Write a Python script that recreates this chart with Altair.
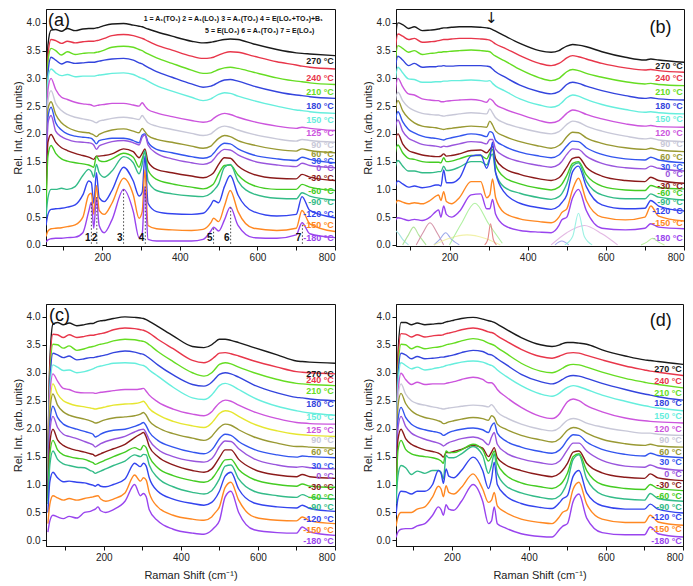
import altair as alt
import pandas as pd

# Shared Raman-shift sampling positions (cm^-1)
X = [55, 60, 68, 80, 95, 110, 130, 150, 165, 172, 178, 185, 192, 205, 225, 255, 280, 295, 303, 310,
     318, 340, 380, 430, 460, 480, 487, 500, 515, 530, 550, 590, 650, 700, 715, 735, 800]

# ---------------- panel (a) ----------------
A_270 = [1.5, 3.6, 3.87, 3.88, 3.85, 3.9, 3.86, 3.89, 3.9, 3.9, 3.9, 3.91, 3.92, 3.95, 3.98, 3.99, 3.96, 3.94, 3.93, 3.91, 3.89, 3.84, 3.76, 3.67, 3.64, 3.65, 3.66, 3.68, 3.7, 3.71, 3.7, 3.62, 3.52, 3.46, 3.45, 3.44, 3.41]
A_240 = [1.4, 3.4, 3.7, 3.68, 3.63, 3.67, 3.64, 3.66, 3.67, 3.67, 3.67, 3.68, 3.69, 3.72, 3.77, 3.79, 3.77, 3.74, 3.72, 3.7, 3.67, 3.6, 3.51, 3.4, 3.36, 3.37, 3.38, 3.42, 3.46, 3.48, 3.47, 3.4, 3.3, 3.24, 3.22, 3.2, 3.17]
A_210 = [1.3, 3.3, 3.54, 3.5, 3.42, 3.48, 3.43, 3.45, 3.46, 3.46, 3.46, 3.47, 3.48, 3.51, 3.56, 3.58, 3.56, 3.52, 3.5, 3.47, 3.44, 3.37, 3.27, 3.15, 3.09, 3.1, 3.12, 3.16, 3.19, 3.2, 3.18, 3.11, 3.01, 2.95, 2.94, 2.92, 2.89]
A_180 = [1.2, 3.1, 3.38, 3.33, 3.26, 3.3, 3.27, 3.28, 3.29, 3.29, 3.29, 3.3, 3.31, 3.33, 3.35, 3.36, 3.33, 3.28, 3.26, 3.23, 3.2, 3.12, 3.02, 2.9, 2.84, 2.86, 2.88, 2.93, 2.97, 2.98, 2.95, 2.86, 2.76, 2.7, 2.69, 2.67, 2.64]
A_150 = [1.1, 3.0, 3.17, 3.1, 3.05, 3.07, 3.03, 3.04, 3.04, 3.04, 3.04, 3.05, 3.06, 3.07, 3.09, 3.1, 3.07, 3.02, 3.0, 2.98, 2.95, 2.87, 2.77, 2.66, 2.6, 2.63, 2.66, 2.71, 2.74, 2.73, 2.68, 2.6, 2.5, 2.43, 2.42, 2.4, 2.37]
A_125 = [1.0, 2.8, 3.0, 2.8, 2.66, 2.62, 2.57, 2.54, 2.53, 2.52, 2.5, 2.51, 2.52, 2.53, 2.55, 2.55, 2.52, 2.5, 2.56, 2.5, 2.44, 2.38, 2.31, 2.24, 2.21, 2.24, 2.28, 2.34, 2.37, 2.35, 2.3, 2.22, 2.14, 2.1, 2.12, 2.1, 2.06]
A_90 = [0.9, 2.6, 2.78, 2.55, 2.42, 2.35, 2.3, 2.27, 2.25, 2.24, 2.22, 2.2, 2.23, 2.25, 2.28, 2.3, 2.28, 2.26, 2.33, 2.27, 2.2, 2.14, 2.08, 2.01, 1.97, 2.0, 2.04, 2.11, 2.14, 2.12, 2.07, 1.99, 1.91, 1.87, 1.9, 1.88, 1.85]
A_60 = [0.85, 2.45, 2.58, 2.35, 2.2, 2.12, 2.06, 2.03, 2.02, 2.0, 1.98, 1.95, 1.99, 2.03, 2.07, 2.09, 2.05, 2.02, 2.1, 2.04, 1.97, 1.9, 1.85, 1.78, 1.74, 1.78, 1.83, 1.92, 1.97, 1.95, 1.88, 1.8, 1.72, 1.69, 1.73, 1.7, 1.66]
A_30 = [0.8, 2.3, 2.48, 2.2, 2.07, 2.0, 1.96, 1.94, 1.93, 1.92, 1.88, 1.82, 1.88, 1.9, 1.92, 1.92, 1.88, 1.84, 1.98, 2.0, 1.85, 1.72, 1.66, 1.59, 1.56, 1.6, 1.65, 1.76, 1.83, 1.82, 1.73, 1.62, 1.55, 1.52, 1.58, 1.54, 1.48]
A_0 = [0.75, 2.2, 2.33, 2.05, 1.95, 1.9, 1.86, 1.85, 1.84, 1.83, 1.8, 1.72, 1.78, 1.82, 1.86, 1.88, 1.84, 1.8, 1.94, 1.98, 1.8, 1.65, 1.55, 1.48, 1.45, 1.49, 1.54, 1.65, 1.72, 1.71, 1.62, 1.51, 1.44, 1.41, 1.47, 1.43, 1.39]
A_M30 = [0.7, 1.85, 1.99, 1.85, 1.75, 1.7, 1.65, 1.61, 1.58, 1.56, 1.54, 1.6, 1.6, 1.61, 1.64, 1.73, 1.68, 1.57, 1.65, 1.73, 1.5, 1.36, 1.3, 1.24, 1.21, 1.26, 1.3, 1.45, 1.57, 1.56, 1.42, 1.27, 1.2, 1.19, 1.27, 1.22, 1.16]
A_M60 = [0.6, 1.6, 1.79, 1.65, 1.55, 1.51, 1.48, 1.46, 1.44, 1.42, 1.4, 1.6, 1.52, 1.5, 1.55, 1.65, 1.58, 1.4, 1.55, 1.68, 1.35, 1.18, 1.1, 1.04, 1.01, 1.06, 1.1, 1.28, 1.43, 1.44, 1.26, 1.07, 1.0, 1.0, 1.09, 1.04, 0.98]
A_M90 = [0.5, 0.85, 1.0, 1.0, 1.02, 1.0, 1.05, 1.25, 1.36, 1.32, 1.22, 1.45, 1.3, 1.22, 1.33, 1.59, 1.48, 1.28, 1.45, 1.7, 1.15, 0.98, 0.92, 0.88, 0.87, 0.93, 0.98, 1.1, 1.4, 1.45, 1.15, 0.92, 0.84, 0.83, 0.94, 0.88, 0.81]
A_M120 = [0.35, 0.55, 0.64, 0.65, 0.66, 0.68, 0.72, 0.9, 1.15, 1.12, 0.75, 1.3, 0.85, 0.78, 0.98, 1.4, 1.15, 0.88, 0.95, 1.6, 0.75, 0.6, 0.56, 0.55, 0.57, 0.72, 0.8, 0.76, 1.05, 1.25, 0.9, 0.6, 0.52, 0.55, 0.87, 0.62, 0.49]
A_M150 = [0.15, 0.25, 0.29, 0.3, 0.31, 0.33, 0.36, 0.5, 0.9, 0.93, 0.55, 1.07, 0.62, 0.55, 0.75, 1.2, 0.9, 0.48, 0.6, 1.35, 0.35, 0.29, 0.27, 0.26, 0.28, 0.4, 0.48, 0.42, 0.7, 0.98, 0.6, 0.3, 0.26, 0.3, 0.62, 0.38, 0.24]
A_M180 = [0.05, 0.09, 0.11, 0.12, 0.12, 0.13, 0.14, 0.22, 0.6, 0.77, 0.3, 0.85, 0.35, 0.22, 0.45, 1.0, 0.6, 0.13, 0.2, 1.05, 0.1, 0.07, 0.07, 0.07, 0.1, 0.25, 0.32, 0.25, 0.45, 0.68, 0.35, 0.13, 0.12, 0.18, 0.4, 0.2, 0.13]

# ---------------- panel (b) ----------------
B_270 = [2.0, 3.4, 4.0, 3.97, 3.9, 3.93, 3.86, 3.87, 3.88, 3.89, 3.9, 3.91, 3.91, 3.92, 3.93, 3.93, 3.92, 3.91, 3.9, 3.88, 3.85, 3.77, 3.63, 3.5, 3.47, 3.5, 3.53, 3.58, 3.61, 3.6, 3.57, 3.48, 3.38, 3.33, 3.35, 3.33, 3.29]
B_240 = [1.9, 3.3, 3.8, 3.76, 3.7, 3.72, 3.65, 3.66, 3.67, 3.68, 3.69, 3.7, 3.7, 3.71, 3.72, 3.72, 3.71, 3.7, 3.69, 3.66, 3.62, 3.55, 3.41, 3.27, 3.23, 3.27, 3.3, 3.37, 3.41, 3.39, 3.35, 3.27, 3.19, 3.15, 3.16, 3.14, 3.11]
B_210 = [1.8, 3.1, 3.59, 3.54, 3.47, 3.5, 3.43, 3.45, 3.46, 3.47, 3.47, 3.48, 3.48, 3.49, 3.5, 3.51, 3.5, 3.49, 3.48, 3.44, 3.4, 3.32, 3.16, 3.01, 2.96, 3.0, 3.04, 3.12, 3.16, 3.14, 3.09, 3.02, 2.94, 2.9, 2.91, 2.89, 2.87]
B_180 = [1.7, 3.0, 3.4, 3.33, 3.23, 3.27, 3.2, 3.21, 3.21, 3.22, 3.22, 3.23, 3.22, 3.22, 3.23, 3.23, 3.23, 3.22, 3.21, 3.17, 3.12, 3.03, 2.88, 2.76, 2.72, 2.76, 2.8, 2.89, 2.93, 2.91, 2.86, 2.78, 2.69, 2.64, 2.65, 2.63, 2.61]
B_150 = [1.6, 2.8, 3.2, 3.1, 2.99, 2.98, 2.93, 2.93, 2.94, 2.94, 2.94, 2.95, 2.95, 2.96, 2.96, 2.97, 2.96, 2.95, 2.96, 2.91, 2.86, 2.78, 2.63, 2.52, 2.48, 2.52, 2.56, 2.65, 2.7, 2.68, 2.62, 2.53, 2.44, 2.39, 2.4, 2.38, 2.36]
B_120 = [1.5, 2.6, 3.0, 2.85, 2.72, 2.7, 2.63, 2.61, 2.6, 2.6, 2.58, 2.58, 2.59, 2.6, 2.61, 2.62, 2.6, 2.57, 2.63, 2.6, 2.53, 2.45, 2.35, 2.24, 2.2, 2.24, 2.28, 2.37, 2.43, 2.41, 2.35, 2.27, 2.18, 2.14, 2.15, 2.13, 2.12]
B_90 = [1.4, 2.5, 2.75, 2.6, 2.48, 2.42, 2.37, 2.35, 2.34, 2.34, 2.33, 2.32, 2.33, 2.34, 2.36, 2.38, 2.37, 2.36, 2.45, 2.38, 2.29, 2.2, 2.11, 2.03, 2.0, 2.04, 2.08, 2.17, 2.23, 2.21, 2.14, 2.05, 1.96, 1.91, 1.92, 1.89, 1.86]
B_60 = [1.3, 2.3, 2.6, 2.42, 2.28, 2.2, 2.14, 2.12, 2.11, 2.1, 2.09, 2.08, 2.09, 2.1, 2.12, 2.14, 2.13, 2.12, 2.23, 2.16, 2.05, 1.96, 1.86, 1.78, 1.74, 1.79, 1.83, 1.95, 2.03, 2.02, 1.93, 1.83, 1.75, 1.72, 1.74, 1.71, 1.68]
B_30 = [1.2, 2.1, 2.4, 2.22, 2.08, 2.02, 1.96, 1.93, 1.92, 1.91, 1.9, 1.89, 1.91, 1.93, 1.96, 2.0, 1.98, 1.95, 2.04, 2.02, 1.88, 1.78, 1.67, 1.6, 1.57, 1.62, 1.67, 1.78, 1.87, 1.86, 1.75, 1.63, 1.55, 1.53, 1.58, 1.53, 1.48]
B_0 = [1.1, 2.0, 2.25, 2.05, 1.92, 1.87, 1.81, 1.79, 1.78, 1.77, 1.76, 1.78, 1.77, 1.79, 1.82, 1.86, 1.85, 1.82, 1.9, 1.9, 1.72, 1.6, 1.5, 1.43, 1.4, 1.45, 1.5, 1.63, 1.73, 1.72, 1.6, 1.47, 1.39, 1.37, 1.42, 1.38, 1.33]
B_M30 = [1.0, 1.8, 2.0, 1.82, 1.7, 1.66, 1.62, 1.6, 1.59, 1.59, 1.6, 1.64, 1.6, 1.61, 1.64, 1.7, 1.71, 1.66, 1.72, 1.77, 1.55, 1.38, 1.27, 1.19, 1.16, 1.21, 1.26, 1.4, 1.56, 1.58, 1.4, 1.24, 1.16, 1.14, 1.22, 1.16, 1.11]
B_M60 = [0.9, 1.6, 1.8, 1.66, 1.56, 1.54, 1.5, 1.49, 1.49, 1.49, 1.48, 1.57, 1.5, 1.51, 1.55, 1.61, 1.61, 1.55, 1.65, 1.72, 1.45, 1.22, 1.1, 1.02, 0.99, 1.04, 1.09, 1.25, 1.47, 1.5, 1.26, 1.06, 0.99, 0.98, 1.07, 1.03, 1.01]
B_M90 = [0.8, 1.35, 1.52, 1.42, 1.33, 1.33, 1.3, 1.3, 1.31, 1.32, 1.32, 1.42, 1.34, 1.35, 1.4, 1.5, 1.5, 1.44, 1.56, 1.64, 1.3, 1.04, 0.93, 0.85, 0.82, 0.87, 0.92, 1.1, 1.42, 1.48, 1.15, 0.9, 0.83, 0.83, 0.92, 0.86, 0.81]
B_M120 = [0.7, 1.0, 1.15, 1.1, 1.04, 1.06, 1.03, 1.05, 1.08, 1.08, 1.06, 1.35, 1.12, 1.12, 1.2, 1.6, 1.62, 1.38, 1.55, 1.85, 1.3, 0.95, 0.75, 0.67, 0.64, 0.7, 0.76, 0.9, 1.32, 1.42, 1.05, 0.72, 0.65, 0.66, 0.8, 0.7, 0.61]
B_M150 = [0.5, 0.7, 0.8, 0.77, 0.74, 0.76, 0.74, 0.8, 0.88, 0.9, 0.8, 0.96, 0.78, 0.74, 0.85, 1.14, 1.14, 0.85, 0.9, 1.19, 0.85, 0.58, 0.47, 0.42, 0.4, 0.5, 0.58, 0.65, 1.0, 1.2, 0.8, 0.5, 0.45, 0.5, 0.7, 0.52, 0.43]
B_M180 = [0.3, 0.42, 0.49, 0.47, 0.44, 0.46, 0.44, 0.5, 0.6, 0.63, 0.5, 0.7, 0.55, 0.5, 0.6, 0.9, 0.92, 0.65, 0.65, 0.82, 0.55, 0.35, 0.26, 0.23, 0.22, 0.35, 0.45, 0.5, 0.85, 1.0, 0.62, 0.3, 0.27, 0.3, 0.38, 0.32, 0.29]

# fitted components drawn faintly at the bottom of panel (b)
B_FIT_X = [[55, 62, 68, 80, 95], [80, 95, 108, 121, 140], [115, 132, 150, 168, 185], [160, 175, 190, 205, 225],
           [160, 200, 245, 290, 330], [200, 230, 265, 300, 335], [290, 298, 305, 312, 320], [470, 487, 505],
           [460, 500, 545, 590, 630], [495, 515, 530, 545, 565], [690, 705, 720, 735, 750]]
B_FIT_Y = [[0.2, 0.25, 0.22, 0.1, 0.0], [0.0, 0.18, 0.32, 0.18, 0.0], [0.0, 0.22, 0.4, 0.22, 0.0], [0.0, 0.1, 0.22, 0.1, 0.0],
           [0.0, 0.12, 0.18, 0.12, 0.0], [0.0, 0.38, 0.75, 0.38, 0.03], [0.0, 0.1, 0.38, 0.1, 0.0], [0.0, 0.07, 0.0],
           [0.0, 0.22, 0.35, 0.2, 0.0], [0.0, 0.15, 0.57, 0.15, 0.0], [0.0, 0.05, 0.12, 0.05, 0.0]]
B_FIT_COLORS = ["#9fe0e0", "#a8e090", "#d08aa0", "#90a0e8", "#f0f0a0", "#a8ee98", "#e07878", "#a0a0f0",
                "#e0b0e0", "#90f0e0", "#b0f090"]

# ---------------- panel (c) ----------------
C_270 = [1.5, 3.2, 3.87, 3.9, 3.86, 3.89, 3.84, 3.86, 3.88, 3.88, 3.9, 3.92, 3.93, 3.94, 3.97, 4.0, 3.99, 3.98, 3.97, 3.95, 3.92, 3.83, 3.66, 3.47, 3.45, 3.5, 3.54, 3.6, 3.6, 3.58, 3.54, 3.45, 3.32, 3.21, 3.2, 3.19, 3.17]
C_240 = [1.4, 3.1, 3.69, 3.68, 3.63, 3.68, 3.63, 3.65, 3.67, 3.67, 3.68, 3.69, 3.7, 3.72, 3.77, 3.8, 3.79, 3.77, 3.76, 3.74, 3.71, 3.6, 3.43, 3.22, 3.18, 3.24, 3.28, 3.35, 3.36, 3.34, 3.3, 3.21, 3.1, 3.02, 3.01, 3.0, 2.98]
C_210 = [1.3, 2.9, 3.51, 3.5, 3.44, 3.48, 3.4, 3.43, 3.46, 3.47, 3.48, 3.5, 3.51, 3.53, 3.57, 3.6, 3.59, 3.57, 3.56, 3.54, 3.5, 3.38, 3.2, 3.0, 2.94, 3.0, 3.05, 3.15, 3.18, 3.16, 3.1, 3.0, 2.88, 2.81, 2.8, 2.79, 2.77]
C_180 = [1.2, 2.8, 3.35, 3.32, 3.27, 3.3, 3.23, 3.25, 3.27, 3.27, 3.28, 3.29, 3.3, 3.32, 3.36, 3.39, 3.37, 3.34, 3.33, 3.3, 3.26, 3.14, 2.96, 2.79, 2.76, 2.83, 2.88, 2.97, 3.0, 2.98, 2.92, 2.78, 2.64, 2.56, 2.55, 2.53, 2.5]
C_150 = [1.1, 2.7, 3.14, 3.1, 3.04, 3.05, 3.0, 3.02, 3.05, 3.07, 3.09, 3.11, 3.12, 3.14, 3.17, 3.18, 3.17, 3.14, 3.13, 3.1, 3.05, 2.94, 2.74, 2.55, 2.52, 2.6, 2.66, 2.77, 2.81, 2.78, 2.7, 2.55, 2.4, 2.32, 2.3, 2.28, 2.24]
C_125 = [1.0, 2.6, 2.98, 2.85, 2.72, 2.7, 2.65, 2.64, 2.64, 2.64, 2.63, 2.64, 2.65, 2.66, 2.68, 2.7, 2.7, 2.71, 2.72, 2.67, 2.6, 2.48, 2.35, 2.26, 2.23, 2.3, 2.36, 2.46, 2.51, 2.49, 2.42, 2.3, 2.18, 2.11, 2.1, 2.09, 2.08]
C_90 = [0.95, 2.4, 2.8, 2.62, 2.5, 2.45, 2.41, 2.39, 2.37, 2.36, 2.35, 2.36, 2.37, 2.39, 2.42, 2.44, 2.45, 2.47, 2.49, 2.44, 2.36, 2.25, 2.13, 2.05, 2.02, 2.1, 2.16, 2.27, 2.32, 2.3, 2.22, 2.08, 1.96, 1.9, 1.89, 1.88, 1.86]
C_60 = [0.9, 2.3, 2.62, 2.42, 2.3, 2.24, 2.2, 2.17, 2.14, 2.12, 2.1, 2.11, 2.13, 2.16, 2.19, 2.21, 2.23, 2.26, 2.29, 2.24, 2.14, 2.02, 1.91, 1.83, 1.79, 1.86, 1.92, 2.02, 2.08, 2.06, 1.98, 1.85, 1.74, 1.68, 1.68, 1.67, 1.65]
C_30 = [0.85, 2.1, 2.4, 2.2, 2.08, 2.03, 1.99, 1.95, 1.92, 1.9, 1.85, 1.87, 1.9, 1.94, 1.97, 1.99, 2.04, 2.08, 2.11, 2.05, 1.94, 1.79, 1.67, 1.58, 1.55, 1.62, 1.68, 1.82, 1.9, 1.88, 1.77, 1.63, 1.53, 1.49, 1.51, 1.5, 1.48]
C_0 = [0.8, 1.95, 2.22, 2.02, 1.9, 1.86, 1.82, 1.77, 1.73, 1.71, 1.67, 1.7, 1.73, 1.77, 1.81, 1.86, 1.94, 1.98, 1.99, 1.92, 1.8, 1.63, 1.5, 1.42, 1.4, 1.46, 1.52, 1.68, 1.78, 1.77, 1.64, 1.46, 1.35, 1.31, 1.32, 1.3, 1.28]
C_M30 = [0.75, 1.75, 1.99, 1.8, 1.7, 1.65, 1.61, 1.58, 1.55, 1.54, 1.51, 1.53, 1.55, 1.59, 1.64, 1.72, 1.84, 1.9, 1.93, 1.85, 1.68, 1.5, 1.35, 1.25, 1.22, 1.28, 1.34, 1.48, 1.62, 1.62, 1.45, 1.27, 1.17, 1.14, 1.18, 1.14, 1.11]
C_M60 = [0.7, 1.55, 1.79, 1.62, 1.53, 1.5, 1.47, 1.45, 1.41, 1.39, 1.36, 1.38, 1.4, 1.44, 1.5, 1.58, 1.66, 1.62, 1.7, 1.66, 1.5, 1.3, 1.16, 1.07, 1.04, 1.1, 1.16, 1.3, 1.44, 1.45, 1.27, 1.09, 1.0, 0.97, 1.01, 0.97, 0.95]
C_M90 = [0.65, 1.35, 1.6, 1.45, 1.37, 1.34, 1.31, 1.3, 1.25, 1.23, 1.2, 1.22, 1.24, 1.28, 1.34, 1.42, 1.53, 1.5, 1.54, 1.53, 1.35, 1.12, 0.96, 0.86, 0.83, 0.89, 0.95, 1.1, 1.33, 1.35, 1.1, 0.88, 0.8, 0.77, 0.82, 0.77, 0.74]
C_M120 = [0.5, 1.05, 1.22, 1.12, 1.05, 1.06, 1.04, 1.03, 1.0, 0.99, 0.97, 1.0, 0.97, 0.96, 1.0, 1.1, 1.38, 1.32, 1.38, 1.33, 1.12, 0.88, 0.74, 0.66, 0.63, 0.68, 0.73, 0.88, 1.15, 1.22, 0.92, 0.67, 0.6, 0.58, 0.63, 0.57, 0.52]
C_M150 = [0.3, 0.65, 0.8, 0.76, 0.72, 0.75, 0.72, 0.75, 0.77, 0.78, 0.79, 0.8, 0.74, 0.7, 0.74, 0.85, 1.17, 1.06, 1.12, 1.08, 0.85, 0.6, 0.45, 0.38, 0.36, 0.42, 0.48, 0.6, 0.95, 1.04, 0.72, 0.42, 0.36, 0.35, 0.42, 0.35, 0.3]
C_M180 = [0.15, 0.35, 0.45, 0.42, 0.39, 0.43, 0.4, 0.5, 0.52, 0.54, 0.56, 0.6, 0.53, 0.5, 0.55, 0.7, 1.0, 0.8, 0.84, 0.78, 0.55, 0.35, 0.2, 0.13, 0.11, 0.18, 0.23, 0.35, 0.78, 0.88, 0.5, 0.19, 0.14, 0.13, 0.24, 0.15, 0.09]

# ---------------- panel (d) ----------------
D_270 = [1.5, 3.3, 3.9, 3.9, 3.86, 3.89, 3.86, 3.87, 3.88, 3.88, 3.89, 3.91, 3.92, 3.94, 3.97, 3.99, 3.96, 3.93, 3.92, 3.9, 3.87, 3.78, 3.63, 3.5, 3.47, 3.5, 3.52, 3.54, 3.54, 3.53, 3.51, 3.41, 3.3, 3.23, 3.22, 3.2, 3.15]
D_240 = [1.4, 3.2, 3.7, 3.69, 3.64, 3.68, 3.64, 3.66, 3.67, 3.67, 3.68, 3.7, 3.71, 3.73, 3.77, 3.8, 3.77, 3.73, 3.72, 3.7, 3.66, 3.57, 3.42, 3.29, 3.26, 3.3, 3.32, 3.35, 3.36, 3.35, 3.31, 3.23, 3.12, 3.05, 3.03, 3.01, 2.95]
D_210 = [1.3, 3.0, 3.51, 3.5, 3.43, 3.47, 3.43, 3.45, 3.46, 3.47, 3.48, 3.5, 3.51, 3.53, 3.57, 3.61, 3.58, 3.53, 3.51, 3.49, 3.45, 3.35, 3.17, 3.03, 3.0, 3.05, 3.08, 3.13, 3.15, 3.14, 3.1, 3.01, 2.9, 2.83, 2.81, 2.79, 2.73]
D_180 = [1.2, 2.9, 3.35, 3.32, 3.25, 3.29, 3.25, 3.26, 3.27, 3.28, 3.28, 3.29, 3.3, 3.32, 3.36, 3.4, 3.38, 3.33, 3.32, 3.29, 3.25, 3.15, 2.97, 2.84, 2.8, 2.85, 2.88, 2.93, 2.95, 2.94, 2.9, 2.81, 2.7, 2.62, 2.6, 2.57, 2.51]
D_150 = [1.1, 2.8, 3.18, 3.13, 3.07, 3.1, 3.05, 3.07, 3.09, 3.1, 3.11, 3.13, 3.14, 3.16, 3.19, 3.21, 3.19, 3.15, 3.13, 3.1, 3.05, 2.94, 2.77, 2.62, 2.58, 2.64, 2.68, 2.74, 2.77, 2.75, 2.7, 2.6, 2.49, 2.41, 2.39, 2.37, 2.32]
D_120 = [1.0, 2.6, 2.99, 2.88, 2.79, 2.83, 2.79, 2.8, 2.8, 2.8, 2.8, 2.81, 2.82, 2.84, 2.88, 2.92, 2.88, 2.82, 2.82, 2.78, 2.7, 2.57, 2.38, 2.22, 2.18, 2.27, 2.35, 2.48, 2.53, 2.5, 2.41, 2.3, 2.19, 2.14, 2.13, 2.12, 2.1]
D_90 = [0.95, 2.55, 2.8, 2.62, 2.5, 2.45, 2.42, 2.39, 2.37, 2.36, 2.35, 2.36, 2.37, 2.38, 2.4, 2.42, 2.41, 2.39, 2.43, 2.38, 2.3, 2.2, 2.08, 1.99, 1.96, 2.02, 2.07, 2.15, 2.18, 2.16, 2.1, 2.03, 1.96, 1.92, 1.92, 1.9, 1.88]
D_60 = [0.9, 2.4, 2.63, 2.45, 2.32, 2.25, 2.2, 2.17, 2.14, 2.12, 2.09, 2.1, 2.12, 2.14, 2.17, 2.2, 2.18, 2.15, 2.23, 2.2, 2.08, 1.99, 1.88, 1.8, 1.76, 1.82, 1.87, 1.97, 2.02, 2.0, 1.92, 1.81, 1.73, 1.7, 1.72, 1.69, 1.67]
D_30 = [0.85, 2.15, 2.38, 2.2, 2.08, 2.02, 1.98, 1.95, 1.93, 1.91, 1.88, 1.9, 1.93, 1.96, 1.99, 2.01, 1.98, 1.93, 2.05, 2.1, 1.92, 1.78, 1.67, 1.59, 1.56, 1.62, 1.67, 1.8, 1.89, 1.88, 1.76, 1.63, 1.54, 1.51, 1.56, 1.52, 1.48]
D_0 = [0.8, 2.0, 2.22, 2.04, 1.92, 1.86, 1.81, 1.77, 1.74, 1.72, 1.69, 1.72, 1.75, 1.78, 1.82, 1.85, 1.8, 1.71, 1.85, 1.93, 1.72, 1.57, 1.46, 1.39, 1.36, 1.42, 1.48, 1.62, 1.74, 1.74, 1.6, 1.43, 1.33, 1.31, 1.35, 1.3, 1.25]
D_M30 = [0.75, 1.8, 1.99, 1.82, 1.72, 1.67, 1.62, 1.59, 1.56, 1.53, 1.49, 1.57, 1.57, 1.59, 1.63, 1.7, 1.65, 1.5, 1.58, 1.66, 1.48, 1.35, 1.25, 1.17, 1.14, 1.2, 1.25, 1.38, 1.58, 1.6, 1.38, 1.21, 1.13, 1.11, 1.19, 1.12, 1.07]
D_M60 = [0.7, 1.6, 1.79, 1.63, 1.55, 1.52, 1.5, 1.48, 1.45, 1.42, 1.38, 1.6, 1.57, 1.57, 1.62, 1.72, 1.62, 1.42, 1.5, 1.6, 1.38, 1.17, 1.03, 0.96, 0.93, 0.99, 1.04, 1.2, 1.5, 1.55, 1.25, 1.0, 0.93, 0.91, 1.0, 0.93, 0.89]
D_M90 = [0.65, 1.15, 1.34, 1.3, 1.18, 1.24, 1.2, 1.25, 1.25, 1.22, 1.1, 1.52, 1.48, 1.48, 1.55, 1.68, 1.52, 1.2, 1.35, 1.55, 1.2, 0.98, 0.85, 0.77, 0.74, 0.8, 0.86, 1.05, 1.45, 1.53, 1.1, 0.82, 0.74, 0.72, 0.84, 0.75, 0.7]
D_M120 = [0.45, 0.75, 0.88, 0.87, 0.83, 0.88, 0.88, 1.0, 1.25, 1.2, 1.02, 1.28, 1.15, 1.12, 1.25, 1.49, 1.25, 0.93, 1.1, 1.4, 1.0, 0.8, 0.66, 0.59, 0.57, 0.68, 0.74, 0.8, 1.15, 1.25, 0.85, 0.62, 0.56, 0.56, 0.65, 0.56, 0.49]
D_M150 = [0.25, 0.42, 0.5, 0.5, 0.5, 0.56, 0.6, 0.78, 0.97, 0.92, 0.78, 0.98, 0.86, 0.83, 0.95, 1.19, 0.92, 0.68, 0.72, 0.86, 0.62, 0.5, 0.38, 0.32, 0.3, 0.43, 0.5, 0.55, 0.92, 1.04, 0.65, 0.38, 0.32, 0.32, 0.45, 0.33, 0.27]
D_M180 = [0.05, 0.15, 0.2, 0.21, 0.21, 0.26, 0.3, 0.45, 0.6, 0.55, 0.45, 0.64, 0.56, 0.54, 0.7, 1.0, 0.7, 0.3, 0.35, 0.6, 0.3, 0.22, 0.12, 0.07, 0.06, 0.2, 0.25, 0.3, 0.7, 0.83, 0.4, 0.14, 0.1, 0.1, 0.24, 0.12, 0.06]

# temperature labels and colours
TEMPS_AC = ["270", "240", "210", "180", "150", "125", "90", "60", "30", "0", "-30", "-60", "-90", "-120", "-150", "-180"]
TEMPS_BD = ["270", "240", "210", "180", "150", "120", "90", "60", "30", "0", "-30", "-60", "-90", "-120", "-150", "-180"]
COLORS = ["#1a1a1a", "#e8364a", "#66dd22", "#3344dd", "#66eedd", "#cc55dd", "#c8c8d8", "#999933",
          "#3355ee", "#9955dd", "#8b1a1a", "#44cc22", "#33bb88", "#3344ee", "#ff8822", "#9944ee"]
COLORS_C = ["#1a1a1a", "#e8364a", "#66dd22", "#3344dd", "#66eedd", "#cc55dd", "#e6e630", "#999933",
            "#3355ee", "#9955dd", "#8b1a1a", "#44cc22", "#33bb88", "#3344ee", "#ff8822", "#9944ee"]

LAB_A = [3.31, 3.0, 2.75, 2.51, 2.25, 2.01, 1.80, 1.63, 1.52, 1.39, 1.21, 0.97, 0.78, 0.55, 0.35, 0.12]
LAB_B = [3.23, 3.0, 2.75, 2.51, 2.26, 2.01, 1.81, 1.59, 1.41, 1.28, 1.06, 0.93, 0.78, 0.61, 0.39, 0.13]
LAB_C = [2.98, 2.87, 2.67, 2.44, 2.21, 1.98, 1.79, 1.58, 1.34, 1.16, 0.96, 0.77, 0.60, 0.39, 0.19, -0.01]
LAB_D = [3.07, 2.86, 2.64, 2.45, 2.23, 1.99, 1.79, 1.59, 1.40, 1.19, 1.00, 0.80, 0.60, 0.42, 0.21, -0.01]
LABEL_X = 797

# peak markers in panel (a)
PEAK_X = [172, 186, 255, 311, 487, 531, 716]
PEAK_TOP = [0.77, 0.86, 1.0, 1.05, 0.32, 0.68, 0.4]
PEAK_NUM = ["1", "2", "3", "4", "5", "6", "7"]
PEAK_NUM_X = [163, 180, 245, 301, 477, 521, 706]
PEAK_NUM_Y = 0.12
LEGEND_LINES = ["1 = A₁(TO₁)  2 = A₁(LO₁)  3 = A₁(TO₂)  4 = E(LO₂+TO₃)+B₁",
                "5 = E(LO₃)  6 = A₁(TO₃)  7 = E(LO₄)"]
LEGEND_X = [538, 606]
LEGEND_Y = [4.07, 3.85]

ARROW_X = 307
ARROW_Y = 4.08

PANEL_LETTERS = ["(a)", "(b)", "(c)", "(d)"]
LETTER_X = [60, 712, 58, 714]
LETTER_Y = [4.04, 3.9, 4.02, 3.93]

X_TICKS = [100, 200, 300, 400, 500, 600, 700, 800]
Y_TICKS = [0.0, 0.5, 1.0, 1.5, 2.0, 2.5, 3.0, 3.5, 4.0]

FONT = "Liberation Sans"


def panel(series, temps, colors, lab_y, xdom, ydom, w, h, xtitle, letter, lx, ly, extra=()):
    rows = []
    for t, ys, c in zip(temps, series, colors):
        for xv, yv in zip(X, ys):
            rows.append({"x": xv, "y": yv, "t": t, "c": c})
    df = pd.DataFrame(rows)
    xaxis_kw = dict(values=X_TICKS, labelExpr="datum.value % 200 == 0 ? datum.label : ''",
                    format="d", title=xtitle if xtitle else None, titlePadding=7)
    xenc = alt.X("x:Q", scale=alt.Scale(domain=xdom, nice=False, zero=False), axis=alt.Axis(**xaxis_kw))
    yenc = alt.Y("y:Q", scale=alt.Scale(domain=ydom, nice=False, zero=False),
                 axis=alt.Axis(values=Y_TICKS, format=".1f", title="Rel. Int. (arb. units)"))
    layers = []
    lines = alt.Chart(df).mark_line(clip=True, strokeWidth=1.4, interpolate="monotone").encode(
        x=xenc, y=yenc, color=alt.Color("c:N", scale=None), detail="t:N")
    layers.append(lines)
    lab = pd.DataFrame({"x": [LABEL_X] * len(temps), "y": lab_y,
                        "txt": [f"{t} °C" for t in temps], "c": COLORS})
    layers.append(alt.Chart(lab).mark_text(align="right", baseline="middle", fontSize=9, clip=True,
                                           fontWeight="bold", font=FONT).encode(
        x=xenc, y=yenc, text="txt:N", color=alt.Color("c:N", scale=None)))
    let = pd.DataFrame({"x": [lx], "y": [ly], "txt": [letter]})
    layers.append(alt.Chart(let).mark_text(align="left", baseline="middle", fontSize=18, clip=True,
                                           font=FONT, color="#111").encode(x=xenc, y=yenc, text="txt:N"))
    for fn in extra:
        layers.append(fn(xenc, yenc))
    return alt.layer(*layers).properties(width=w, height=h)


def fit_layer(xenc, yenc):
    rows = []
    for i, (xs, ys, c) in enumerate(zip(B_FIT_X, B_FIT_Y, B_FIT_COLORS)):
        for xv, yv in zip(xs, ys):
            rows.append({"x": xv, "y": yv, "k": i, "c": c})
    df = pd.DataFrame(rows)
    return alt.Chart(df).mark_line(clip=True, strokeWidth=1.1, interpolate="monotone", opacity=0.9).encode(
        x=xenc, y=yenc, color=alt.Color("c:N", scale=None), detail="k:N")


def arrow_layer(xenc, yenc):
    df = pd.DataFrame({"x": [ARROW_X], "y": [ARROW_Y], "txt": ["↓"]})
    return alt.Chart(df).mark_text(fontSize=15, font="DejaVu Sans", color="#111", baseline="middle",
                                   clip=True).encode(x=xenc, y=yenc, text="txt:N")


def peak_rules(xenc, yenc):
    df = pd.DataFrame({"x": PEAK_X, "y": [0.02] * len(PEAK_X), "y2": PEAK_TOP})
    return alt.Chart(df).mark_rule(strokeDash=[1.5, 2], color="#444", strokeWidth=1).encode(
        x=xenc, y=yenc, y2="y2:Q")


def peak_nums(xenc, yenc):
    df = pd.DataFrame({"x": PEAK_NUM_X, "y": [PEAK_NUM_Y] * len(PEAK_NUM_X), "txt": PEAK_NUM})
    return alt.Chart(df).mark_text(fontSize=10, fontWeight="bold", font=FONT, color="#111",
                                   baseline="middle", clip=True).encode(x=xenc, y=yenc, text="txt:N")


def legend_text(xenc, yenc):
    df = pd.DataFrame({"x": LEGEND_X, "y": LEGEND_Y, "txt": LEGEND_LINES})
    return alt.Chart(df).mark_text(fontSize=7, fontWeight="bold", font=FONT, color="#111",
                                   baseline="middle", clip=True).encode(x=xenc, y=yenc, text="txt:N")


A = [A_270, A_240, A_210, A_180, A_150, A_125, A_90, A_60, A_30, A_0, A_M30, A_M60, A_M90, A_M120, A_M150, A_M180]
B = [B_270, B_240, B_210, B_180, B_150, B_120, B_90, B_60, B_30, B_0, B_M30, B_M60, B_M90, B_M120, B_M150, B_M180]
C = [C_270, C_240, C_210, C_180, C_150, C_125, C_90, C_60, C_30, C_0, C_M30, C_M60, C_M90, C_M120, C_M150, C_M180]
D = [D_270, D_240, D_210, D_180, D_150, D_120, D_90, D_60, D_30, D_0, D_M30, D_M60, D_M90, D_M120, D_M150, D_M180]

pa = panel(A, TEMPS_AC, COLORS, LAB_A, [55, 800], [-0.02, 4.25], 289, 237, None,
           PANEL_LETTERS[0], LETTER_X[0], LETTER_Y[0], extra=(peak_rules, peak_nums, legend_text))
pb = panel(B, TEMPS_BD, COLORS, LAB_B, [63, 800], [-0.02, 4.25], 288, 237, None,
           PANEL_LETTERS[1], LETTER_X[1], LETTER_Y[1], extra=(fit_layer, arrow_layer))
pc = panel(C, TEMPS_AC, COLORS_C, LAB_C, [50, 800], [-0.1, 4.23], 289, 242, "Raman Shift (cm⁻¹)",
           PANEL_LETTERS[2], LETTER_X[2], LETTER_Y[2])
pd_ = panel(D, TEMPS_BD, COLORS, LAB_D, [55, 800], [-0.1, 4.23], 287, 242, "Raman Shift (cm⁻¹)",
            PANEL_LETTERS[3], LETTER_X[3], LETTER_Y[3])

top = alt.hconcat(pa, pb, spacing=61, bounds="flush")
bottom = alt.hconcat(pc, pd_, spacing=61, bounds="flush")
chart = alt.vconcat(top, bottom, spacing=40, padding={"left": 3, "top": 0, "right": 0, "bottom": 0}).configure(
    font=FONT
).configure_view(
    stroke="#111", strokeWidth=1
).configure_axis(
    grid=False, domainColor="#111", tickColor="#111", labelColor="#222", titleColor="#222",
    labelFontSize=10, titleFontSize=11, titleFontWeight="normal", tickSize=4, labelPadding=2,
    titlePadding=3, labelFont=FONT, titleFont=FONT
)

chart.save("out.html", embed_options={"renderer": "svg", "actions": False})
